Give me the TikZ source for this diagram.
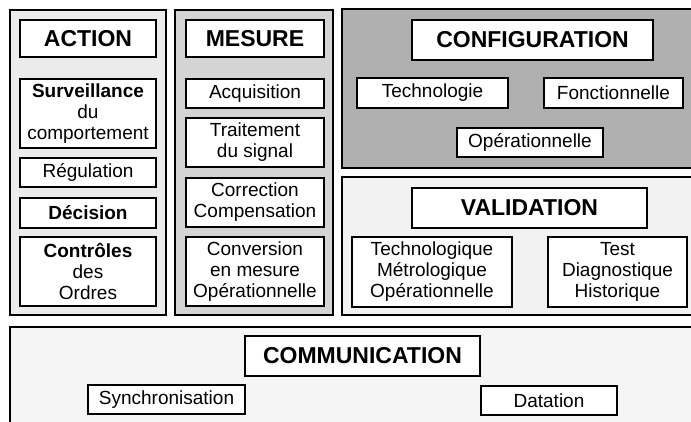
\documentclass[tikz,border=0pt]{standalone}
\usepackage{fontspec}
\setmainfont{Liberation Sans}
\usetikzlibrary{positioning}

\begin{document}
\begin{tikzpicture}[x=1pt,y=-1pt,
  panel/.style={draw,line width=1.1pt,inner sep=0pt},
  titlebox/.style={draw,fill=white,line width=1.5pt,inner sep=0pt,
        font=\fontsize{23}{25}\selectfont\bfseries},
  itembox/.style={draw,fill=white,line width=1.5pt,inner sep=0pt,align=center,
        font=\fontsize{19}{21}\selectfont}]
  \useasboundingbox (0,0) rectangle (691,421);
  % panels
  \node[panel,fill=gray!16,minimum width=156pt,minimum height=305pt] (paction) at (88,162.5) {};
  \node[panel,fill=gray!34,minimum width=158pt,minimum height=305pt] (pmesure) at (254,162.5) {};
  \node[panel,fill=gray!62,minimum width=358pt,minimum height=159pt] (pconfig) at (521,88.5) {};
  \node[panel,fill=gray!10,minimum width=358pt,minimum height=138pt] (pvalid) at (521,246) {};
  \node[panel,fill=gray!8,minimum width=690pt,minimum height=114pt] (pcomm) at (355,384) {};
  % action
  \node[titlebox,minimum width=136pt,minimum height=37pt] (action) at (88,38.5) {ACTION};
  \node[itembox,minimum width=136pt,minimum height=69pt] (surv) at (88,113.5)
        {\textbf{Surveillance}\\du\\comportement};
  \node[itembox,minimum width=136pt,minimum height=29pt] (regul) at (88,172.5) {Régulation};
  \node[itembox,minimum width=136pt,minimum height=30pt] (decis) at (88,213) {\textbf{Décision}};
  \node[itembox,minimum width=136pt,minimum height=69pt] (ctrl) at (88,271.5)
        {\textbf{Contrôles}\\des\\Ordres};
  % mesure
  \node[titlebox,minimum width=138pt,minimum height=37pt] (mesure) at (255,38.5) {MESURE};
  \node[itembox,minimum width=138pt,minimum height=29pt] (acq) at (255,93.5) {Acquisition};
  \node[itembox,minimum width=138pt,minimum height=49pt] (trait) at (255,142.5) {Traitement\\du signal};
  \node[itembox,minimum width=138pt,minimum height=49pt] (corr) at (255,202.5) {Correction\\Compensation};
  \node[itembox,minimum width=138pt,minimum height=69pt] (conv) at (255,271.5)
        {Conversion\\en mesure\\Opérationnelle};
  % configuration
  \node[titlebox,minimum width=241pt,minimum height=40pt] (config) at (532.5,40) {CONFIGURATION};
  \node[itembox,minimum width=151pt,minimum height=30pt] (techno) at (432.5,93) {Technologie};
  \node[itembox,minimum width=139pt,minimum height=30pt] (fonct) at (613.5,93) {Fonctionnelle};
  \node[itembox,minimum width=146pt,minimum height=29pt] (opera) at (530,142.5) {Opérationnelle};
  % validation
  \node[titlebox,minimum width=235pt,minimum height=40pt] (valid) at (529.5,208) {VALIDATION};
  \node[itembox,minimum width=160pt,minimum height=70pt] (vtech) at (432,272)
        {Technologique\\Métrologique\\Opérationnelle};
  \node[itembox,minimum width=139pt,minimum height=70pt] (vtest) at (617.5,272)
        {Test\\Diagnostique\\Historique};
  % communication
  \node[titlebox,minimum width=235pt,minimum height=40pt] (comm) at (362.5,356) {COMMUNICATION};
  \node[itembox,minimum width=157pt,minimum height=29pt] (sync) at (166.5,399.5) {Synchronisation};
  \node[itembox,minimum width=136pt,minimum height=29pt] (datat) at (549,400.5) {Datation};
\end{tikzpicture}
\end{document}
